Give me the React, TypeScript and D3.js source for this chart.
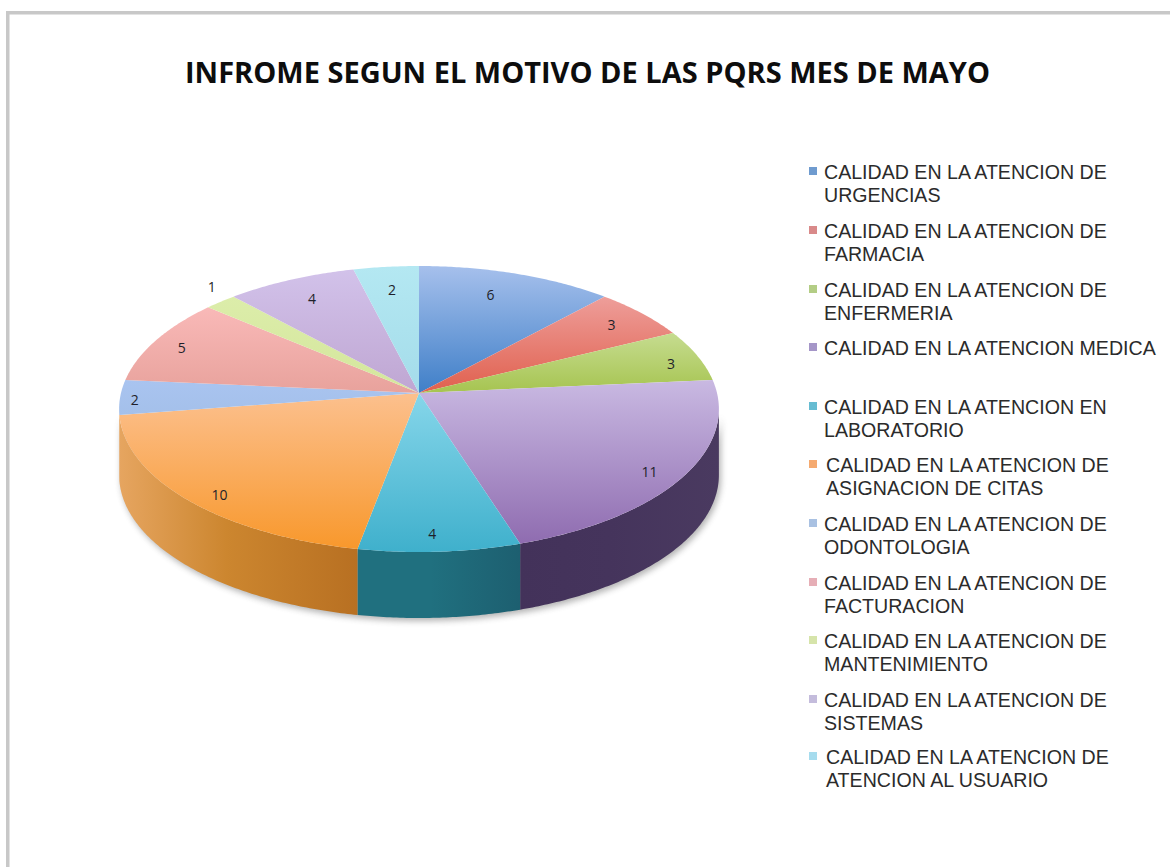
import React from "react";
import * as d3 from "d3";

const titleText = "INFROME SEGUN EL MOTIVO DE LAS PQRS MES DE MAYO";
const prefix = "CALIDAD EN LA ATENCION";

const legendLines = [
  [`${prefix} DE`, "URGENCIAS"],
  [`${prefix} DE`, "FARMACIA"],
  [`${prefix} DE`, "ENFERMERIA"],
  [`${prefix} MEDICA`],
  [`${prefix} EN`, "LABORATORIO"],
  [`${prefix} DE`, "ASIGNACION DE CITAS"],
  [`${prefix} DE`, "ODONTOLOGIA"],
  [`${prefix} DE`, "FACTURACION"],
  [`${prefix} DE`, "MANTENIMIENTO"],
  [`${prefix} DE`, "SISTEMAS"],
  [`${prefix} DE`, "ATENCION AL USUARIO"],
];
const counts = [6, 3, 3, 11, 4, 10, 2, 5, 1, 4, 2];

// Outer edge and inner (apex) stop of each slice's top face
const topOuter = ["#a6c0ec", "#ee9e9a", "#c6dc90", "#c9b9e2", "#86d6ea", "#fcc08e", "#a9c4f0", "#f9b9b8", "#dcedaa", "#d2c2ea", "#b4e8f2"];
const topInner = ["#3f7fc8", "#e0604e", "#a6c450", "#8f6cb0", "#3fb0cc", "#f8982c", "#a4c0ea", "#e8a29c", "#d4e69c", "#bfa6d2", "#a4dcea"];
const legendSwatch = ["#6f9bcf", "#d98a8a", "#b3cd85", "#a596c8", "#66bcd2", "#f5aa70", "#a9c1e2", "#e6aeb6", "#d6e4aa", "#c4bcdc", "#a6dcee"];
// Left, middle and right stops of the rim walls, for the slices that show one
const wallLeft: Record<number, string> = { 3: "#43325a", 4: "#20707f", 5: "#e6a560", 6: "#e6a560" };
const wallMid: Record<number, string> = { 3: "#45345c", 4: "#20707f", 5: "#cc862f", 6: "#e6a560" };
const wallRight: Record<number, string> = { 3: "#4a3a60", 4: "#1d5f70", 5: "#b87022", 6: "#e6a560" };

// How far along its radius each count label sits, and its turn from the slice middle in degrees
const labelReach = [0.8, 0.85, 0.89, 0.9, 0.9, 0.91, 0.95, 0.89, 1.115, 0.82, 0.8];
const labelTurn = [-2.2, 0.5, 2.3, 2.5, 1, -3, -1.2, -1, 3, 0, 0];
// Text start and first baseline of each legend entry
const legendX = [824, 824, 824, 824, 824, 826, 824, 824, 824, 824, 826];
const legendY = [179, 238, 297, 355, 414, 472, 531, 590, 648, 707, 764];

const apexX = 419;
const apexY = 393;
const spreadX = 298;
const spreadY = 141.2;
const tilt = 0.112;
const wallDepth = 66;

// Tilted-disc projection: a point on the unit disc at clock angle a and radius r
function project(a: number, r = 1): [number, number] {
  const u = Math.sin(a) * r;
  const v = Math.cos(a) * r;
  const w = 1 + tilt * v;
  return [apexX + (spreadX * u) / w, apexY - (spreadY * v) / w];
}

const silhouetteAngle = Math.acos(-tilt);
const line = d3.line();

function rim(a0: number, a1: number): [number, number][] {
  const n = Math.max(2, Math.ceil(Math.abs(a1 - a0) / 0.01));
  return d3.range(n + 1).map((i) => project(a0 + ((a1 - a0) * i) / n));
}

function wallPath(a0: number, a1: number): string {
  const top = rim(a0, a1);
  const bottom = top.map(([x, y]) => [x, y + wallDepth] as [number, number]).reverse();
  return line([...top, ...bottom]) + "Z";
}

const arcs = d3.pie<number>().sort(null).value((d) => d)(counts);
const frontStart = silhouetteAngle;
const frontEnd = 2 * Math.PI - silhouetteAngle;

export default function App() {
  return (
    <svg
      width={1170}
      height={867}
      viewBox="0 0 1170 867"
      style={{ position: "absolute", left: 0, top: 0, display: "block", background: "#fff" }}
    >
      <defs>
        <filter id="soft" x="-10%" y="-10%" width="120%" height="130%">
          <feGaussianBlur stdDeviation="3" />
        </filter>
        {arcs.map((_, i) => (
          <linearGradient key={i} id={`top${i}`} x1="0" y1="0" x2="0" y2="1">
            <stop offset="0%" stopColor={topOuter[i]} />
            <stop offset="100%" stopColor={topInner[i]} />
          </linearGradient>
        ))}
        {Object.keys(wallLeft).map((k) => (
          <linearGradient key={k} id={`wall${k}`} x1="0" y1="0" x2="1" y2="0">
            <stop offset="0%" stopColor={wallLeft[+k]} />
            <stop offset="45%" stopColor={wallMid[+k]} />
            <stop offset="100%" stopColor={wallRight[+k]} />
          </linearGradient>
        ))}
      </defs>

      {/* Frame, open on the right and at the bottom */}
      <path d="M7.75,867V12.75H1170" fill="none" stroke="#c8c8c8" strokeWidth={3.5} />

      <text
        x={185}
        y={83}
        fontFamily="'Open Sans', sans-serif"
        fontWeight={700}
        fontSize={28}
        fill="#0d0d0d"
        textLength={805}
        lengthAdjust="spacingAndGlyphs"
      >
        {titleText}
      </text>

      {/* Soft shadow under the rim */}
      <path
        d={wallPath(frontStart, frontEnd)}
        transform="translate(2,3)"
        fill="#555"
        opacity={0.45}
        filter="url(#soft)"
      />

      {/* Rim walls */}
      {arcs.map((a, i) => {
        const s = Math.max(a.startAngle, frontStart);
        const e = Math.min(a.endAngle, frontEnd);
        if (e <= s || !wallLeft[i]) return null;
        return <path key={i} d={wallPath(s, e)} fill={`url(#wall${i})`} />;
      })}

      {/* Top faces */}
      {arcs.map((a, i) => (
        <path
          key={i}
          d={line([[apexX, apexY], ...rim(a.startAngle, a.endAngle)]) + "Z"}
          fill={`url(#top${i})`}
        />
      ))}

      {/* Count labels */}
      {arcs.map((a, i) => {
        const mid = (a.startAngle + a.endAngle) / 2 + (labelTurn[i] * Math.PI) / 180;
        const [x, y] = project(mid, labelReach[i]);
        return (
          <text
            key={i}
            x={x}
            y={y + 5}
            textAnchor="middle"
            fontFamily="'Open Sans', sans-serif"
            fontSize={14}
            fill="#1f1f2a"
          >
            {a.data}
          </text>
        );
      })}

      {/* Legend */}
      {legendLines.map((lines, i) => (
        <g key={i}>
          <rect x={809} y={legendY[i] - 12} width={8} height={8} fill={legendSwatch[i]} />
          {lines.map((t, j) => (
            <text
              key={j}
              x={legendX[i]}
              y={legendY[i] + j * 23}
              fontFamily="'Liberation Sans', Arial, sans-serif"
              fontSize={19.6}
              fill="#2b2b2b"
            >
              {t}
            </text>
          ))}
        </g>
      ))}
    </svg>
  );
}
